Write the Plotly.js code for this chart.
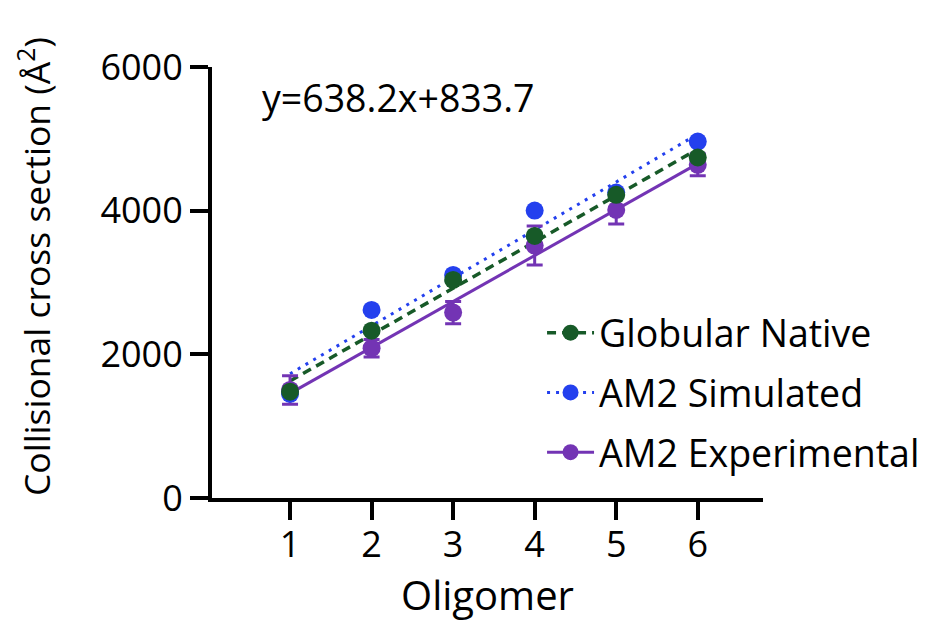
<!DOCTYPE html>
<html>
<head>
<meta charset="utf-8">
<script src="https://cdn.plot.ly/plotly-3.0.1.min.js"></script>
<style>
  html, body { margin: 0; padding: 0; background: #ffffff; }
  #chart { width: 926px; height: 622px; }
</style>
</head>
<body>
<div id="chart"></div>
<script>
// ---- data ----
const oligomer = [1, 2, 3, 4, 5, 6];
const globularNative = [1480, 2330, 3036, 3649, 4220, 4740];
const am2Simulated = [1450, 2618, 3106, 4001, 4252, 4962];
const am2Experimental = [1504, 2085, 2581, 3514, 4011, 4638];
const am2ExperimentalErr = [199, 123, 155, 272, 195, 153];
const seriesNames = ["Globular Native", "AM2 Simulated", "AM2 Experimental"];
const xTickVals = [1, 2, 3, 4, 5, 6];
const yTickVals = [0, 2000, 4000, 6000];
const equationText = "y=638.2x+833.7";
const xTitle = "Oligomer";
const yTitle = "Collisional cross section (Å<sup>2</sup>)";

// ---- styles ----
const FONT = '"Open Sans", "Noto Sans", sans-serif';
const cGreen = "#175a28";
const cBlue = "#2440ee";
const cPurple = "#7334b4";

// least-squares fit of each series (drawn between first and last x)
function fitLine(xs, ys) {
  const n = xs.length;
  const mx = xs.reduce((a, b) => a + b, 0) / n;
  const my = ys.reduce((a, b) => a + b, 0) / n;
  let sxy = 0, sxx = 0;
  for (let i = 0; i < n; i++) { sxy += (xs[i] - mx) * (ys[i] - my); sxx += (xs[i] - mx) ** 2; }
  const m = sxy / sxx, b = my - m * mx;
  const x0 = Math.min(...xs), x1 = Math.max(...xs);
  return { x: [x0, x1], y: [m * x0 + b, m * x1 + b] };
}

const fitG = fitLine(oligomer, globularNative);
const fitB = fitLine(oligomer, am2Simulated);
const fitP = fitLine(oligomer, am2Experimental);

const lineStyles = {
  g: { color: cGreen, width: 3.5, dash: "9px,6px" },
  b: { color: cBlue, width: 3, dash: "3px,6px" },
  p: { color: cPurple, width: 3, dash: "solid" }
};
const MS = 18;

const traces = [
  // fit lines (behind markers)
  { x: fitP.x, y: fitP.y, mode: "lines", line: lineStyles.p, showlegend: false, hoverinfo: "skip" },
  { x: fitB.x, y: fitB.y, mode: "lines", line: lineStyles.b, showlegend: false, hoverinfo: "skip" },
  { x: fitG.x, y: fitG.y, mode: "lines", line: lineStyles.g, showlegend: false, hoverinfo: "skip" },
  // data points
  { x: oligomer, y: am2Experimental, mode: "markers", name: seriesNames[2], showlegend: false,
    marker: { color: cPurple, size: MS },
    error_y: { type: "data", array: am2ExperimentalErr, visible: true, color: cPurple, thickness: 3, width: 8 } },
  { x: oligomer, y: am2Simulated, mode: "markers", name: seriesNames[1], showlegend: false,
    marker: { color: cBlue, size: MS } },
  { x: oligomer, y: globularNative, mode: "markers", name: seriesNames[0], showlegend: false,
    marker: { color: cGreen, size: MS } },
  // legend entries (line + marker)
  { x: [null], y: [null], mode: "lines+markers", name: seriesNames[0], legendgroup: "g1",
    line: lineStyles.g, marker: { color: cGreen, size: MS } },
  { x: [null], y: [null], mode: "lines+markers", name: seriesNames[1], legendgroup: "g2",
    line: lineStyles.b, marker: { color: cBlue, size: MS } },
  { x: [null], y: [null], mode: "lines+markers", name: seriesNames[2], legendgroup: "g3",
    line: lineStyles.p, marker: { color: cPurple, size: MS } }
];

const layout = {
  width: 926, height: 622,
  margin: { l: 212, r: 163, t: 67, b: 124, pad: 0, autoexpand: false },
  paper_bgcolor: "#ffffff", plot_bgcolor: "#ffffff",
  font: { family: FONT, color: "#000000", size: 36 },
  showlegend: true,
  xaxis: {
    range: [0.043, 6.8], tickvals: xTickVals, ticktext: xTickVals.map(String),
    showline: true, linecolor: "#000", linewidth: 4, mirror: false,
    ticks: "outside", ticklen: 18, tickwidth: 4, tickcolor: "#000",
    showgrid: false, zeroline: false, ticklabelstandoff: -6,
    tickfont: { family: FONT, size: 36, color: "#000" },
    title: { text: xTitle, font: { family: FONT, size: 40, color: "#000" }, standoff: 20 }
  },
  yaxis: {
    range: [0, 6000], tickvals: yTickVals, ticktext: yTickVals.map(String),
    showline: true, linecolor: "#000", linewidth: 4,
    ticks: "outside", ticklen: 18, tickwidth: 4, tickcolor: "#000",
    showgrid: false, zeroline: false,
    tickfont: { family: FONT, size: 36, color: "#000" }
  },
  legend: {
    x: 0.599, xanchor: "left", y: 0.244, yanchor: "middle",
    bgcolor: "rgba(0,0,0,0)", borderwidth: 0, itemwidth: 47,
    font: { family: FONT, size: 37.5, color: "#000" },
    traceorder: "grouped", tracegroupgap: 8
  },
  annotations: [
    {
      xref: "paper", yref: "paper", x: 0.087, y: 0.93, xanchor: "left", yanchor: "middle",
      text: equationText, showarrow: false, font: { family: FONT, size: 37.5, color: "#000" }
    },
    {
      // y-axis title, placed as in the reference (slightly above the axis centre)
      xref: "paper", yref: "paper", x: -0.324, y: 0.537, xanchor: "center", yanchor: "middle",
      textangle: -90, text: yTitle, showarrow: false,
      font: { family: FONT, size: 35.5, color: "#000" }
    }
  ]
};

Plotly.newPlot("chart", traces, layout, { displayModeBar: false, staticPlot: true });
</script>
</body>
</html>
